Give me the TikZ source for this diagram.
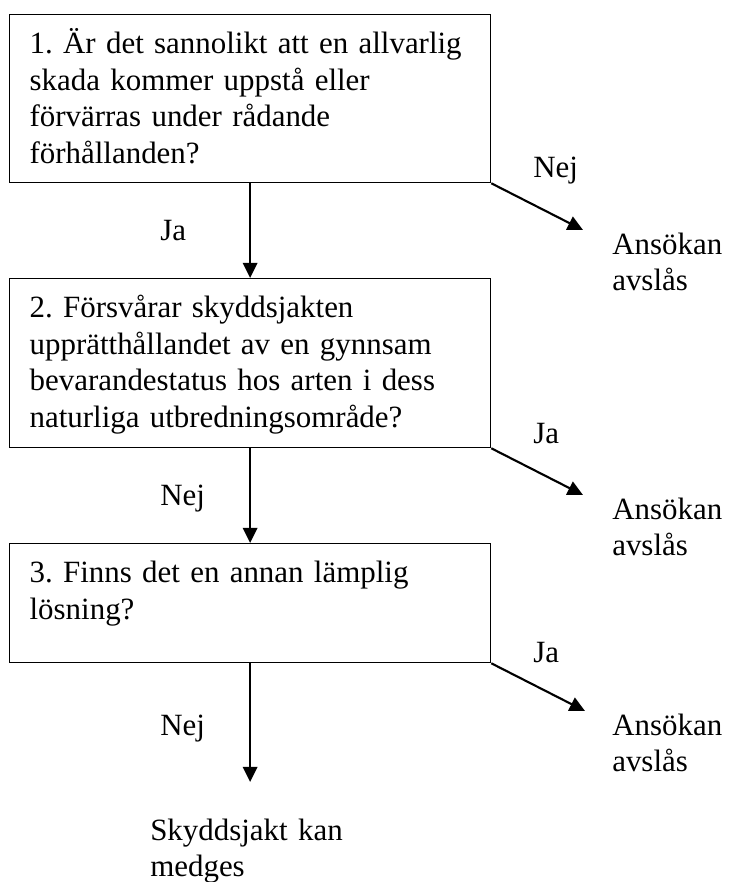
\documentclass[tikz,border=0pt]{standalone}
\usepackage{fontspec}
\setmainfont{Liberation Serif}
\usetikzlibrary{arrows.meta}

\begin{document}
\begin{tikzpicture}[
  qbox/.style = {draw, line width = 0.9pt, anchor = north west, text width = 11.025cm,
    align = left, inner xsep = 0.5cm, inner ysep = 0pt, text height = 0.975cm},
  lbl/.style = {anchor = base west, inner sep = 0pt},
  outcome/.style = {anchor = base west, inner sep = 0pt, text width = 6cm, align = left},
  flow/.style = {line width = 1.5pt, -{Triangle[length = 0.38cm, width = 0.36cm]}},
  font = \fontsize{22}{26}\selectfont\frenchspacing
]
  \useasboundingbox (0, 0) rectangle (18.2cm, -22.05cm);

  % the three questions
  \node[qbox, text depth = 3.225cm] (q1) at (0.225cm, -0.35cm)
    {1. Är det sannolikt att en allvarlig\\ skada kommer uppstå eller\\ förvärras under rådande\\ förhållanden?};
  \node[qbox, text depth = 3.25cm] (q2) at (0.225cm, -6.95cm)
    {2. Försvårar skyddsjakten\\ upprätthållandet av en gynnsam\\ bevarandestatus hos arten i dess\\ naturliga utbredningsområde?};
  \node[qbox, text depth = 2cm] (q3) at (0.225cm, -13.575cm)
    {3. Finns det en annan lämplig\\ lösning?};

  % free ends of the side arrows
  \coordinate (t1) at (14.575cm, -5.75cm);
  \coordinate (t2) at (14.575cm, -12.375cm);
  \coordinate (t3) at (14.625cm, -17.775cm);
  \coordinate (t4) at (q3.south |- 0, -19.55cm);

  \draw[flow] (q1.south) -- (q2.north);
  \draw[flow] (q2.south) -- (q3.north);
  \draw[flow] (q3.south) -- (t4);
  \draw[flow] (q1.south east) -- (t1);
  \draw[flow] (q2.south east) -- (t2);
  \draw[flow] (q3.south east) -- (t3);

  \node[lbl] (ja1) at (4cm, -6cm) {Ja};
  \node[lbl] (nej1) at (13.325cm, -4.425cm) {Nej};
  \node[lbl] (nej2) at (4cm, -12.625cm) {Nej};
  \node[lbl] (ja2) at (13.325cm, -11.075cm) {Ja};
  \node[lbl] (nej3) at (4cm, -18.375cm) {Nej};
  \node[lbl] (ja3) at (13.325cm, -16.55cm) {Ja};

  \node[outcome] (a1) at (15.3cm, -6.35cm) {Ansökan\\ avslås};
  \node[outcome] (a2) at (15.3cm, -12.975cm) {Ansökan\\ avslås};
  \node[outcome] (a3) at (15.3cm, -18.375cm) {Ansökan\\ avslås};
  \node[outcome] (ok) at (3.75cm, -21cm) {Skyddsjakt kan\\ medges};
\end{tikzpicture}
\end{document}
